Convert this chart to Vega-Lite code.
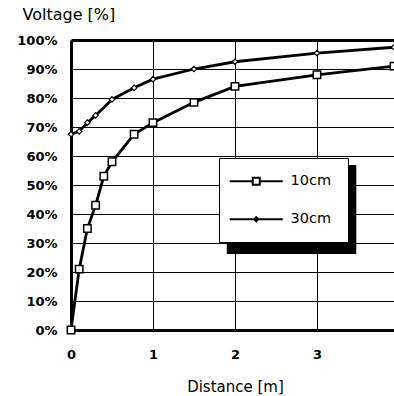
{
  "$schema": "https://vega.github.io/schema/vega-lite/v6.json",
  "autosize": {"type": "none"},
  "padding": {"left": 71, "top": 40, "right": 0, "bottom": 66},
  "width": 323,
  "height": 290,
  "background": "white",
  "config": {
    "view": {"stroke": null},
    "font": "DejaVu Sans",
    "axis": {"labelFont": "DejaVu Sans", "labelColor": "black", "titleColor": "black", "titleFont": "DejaVu Sans", "titleFontWeight": "normal"}
  },
  "datasets": {
    "curves": [
      {"d": 0, "v": 0, "series": "10cm"},
      {"d": 0.1, "v": 21, "series": "10cm"},
      {"d": 0.2, "v": 35, "series": "10cm"},
      {"d": 0.3, "v": 43, "series": "10cm"},
      {"d": 0.4, "v": 53, "series": "10cm"},
      {"d": 0.5, "v": 58, "series": "10cm"},
      {"d": 0.77, "v": 67.5, "series": "10cm"},
      {"d": 1.0, "v": 71.5, "series": "10cm"},
      {"d": 1.5, "v": 78.5, "series": "10cm"},
      {"d": 2.0, "v": 84, "series": "10cm"},
      {"d": 3.0, "v": 88, "series": "10cm"},
      {"d": 3.94, "v": 91, "series": "10cm"},
      {"d": 0, "v": 67.5, "series": "30cm"},
      {"d": 0.1, "v": 68.5, "series": "30cm"},
      {"d": 0.2, "v": 71.5, "series": "30cm"},
      {"d": 0.3, "v": 74, "series": "30cm"},
      {"d": 0.5, "v": 79.5, "series": "30cm"},
      {"d": 0.77, "v": 83.5, "series": "30cm"},
      {"d": 1.0, "v": 86.5, "series": "30cm"},
      {"d": 1.5, "v": 90, "series": "30cm"},
      {"d": 2.0, "v": 92.5, "series": "30cm"},
      {"d": 3.0, "v": 95.5, "series": "30cm"},
      {"d": 3.94, "v": 97.5, "series": "30cm"}
    ],
    "shadow": [{"d": 1.9, "d2": 3.48, "v": 56.9, "v2": 26.2}]
  },
  "encoding": {
    "x": {
      "field": "d", "type": "quantitative",
      "scale": {"domain": [0, 3.94], "nice": false, "zero": false},
      "axis": {
        "values": [0, 1, 2, 3],
        "format": "d", "labelFlush": false,
        "grid": true, "gridColor": "black", "gridWidth": 1, "gridOpacity": 1,
        "domain": true, "domainColor": "black", "domainWidth": 3,
        "ticks": false, "labelFontSize": 13, "labelFontWeight": "bold", "labelPadding": 18,
        "title": "Distance [m]", "titleFontSize": 15,
        "titleX": 164, "titleY": 56, "titleBaseline": "middle", "titleAnchor": "middle"
      }
    },
    "y": {
      "field": "v", "type": "quantitative",
      "scale": {"domain": [0, 100], "nice": false},
      "axis": {
        "values": [0, 10, 20, 30, 40, 50, 60, 70, 80, 90, 100],
        "labelExpr": "datum.value + '%'", "labelOverlap": false,
        "grid": true, "gridColor": "black", "gridOpacity": 1,
        "gridWidth": {"condition": {"test": "datum.value === 100", "value": 3}, "value": 1},
        "domain": true, "domainColor": "black", "domainWidth": 3,
        "ticks": false, "labelFontSize": 13, "labelFontWeight": "bold", "labelPadding": 14,
        "title": "Voltage [%]", "titleFontSize": 16, "titleAngle": 0,
        "titleX": -49, "titleY": -21, "titleAlign": "left", "titleBaseline": "alphabetic"
      }
    }
  },
  "layer": [
    {
      "data": {"name": "shadow"},
      "mark": {"type": "rect", "color": "black"},
      "encoding": {
        "x2": {"field": "d2"},
        "y2": {"field": "v2"}
      }
    },
    {
      "data": {"name": "curves"},
      "mark": {"type": "line", "color": "black", "strokeWidth": 2.8},
      "encoding": {
        "detail": {"field": "series"}
      }
    },
    {
      "data": {"name": "curves"},
      "transform": [{"filter": "datum.series === '10cm'"}],
      "mark": {"type": "point", "shape": "square", "filled": true, "fill": "white", "stroke": "black", "strokeWidth": 1.5, "opacity": 1, "size": 55}
    },
    {
      "data": {"name": "curves"},
      "transform": [{"filter": "datum.series === '30cm'"}],
      "mark": {"type": "point", "shape": "diamond", "filled": true, "fill": "white", "stroke": "black", "strokeWidth": 1.2, "opacity": 1, "size": 30}
    },
    {
      "data": {"name": "curves"},
      "transform": [{"filter": "datum.d < 0"}],
      "mark": {"type": "point", "filled": false, "color": "black", "strokeWidth": 2, "opacity": 1, "size": 100},
      "encoding": {
        "shape": {
          "field": "series", "type": "nominal",
          "scale": {"domain": ["10cm", "30cm"], "range": ["M-5.3,0H-0.7M0.7,0H5.3M-0.7,-0.7H0.7V0.7H-0.7Z", "M-5.3,0H5.3M0,-0.4L0.4,0L0,0.4L-0.4,0Z"]},
          "legend": {
            "title": null,
            "orient": "none", "legendX": 148, "legendY": 118,
            "padding": 16, "strokeColor": "black", "fillColor": "white",
            "symbolOffset": 14, "labelOffset": 27,
            "rowPadding": 22, "labelFontSize": 14.5, "labelFont": "DejaVu Sans", "labelColor": "black",
            "symbolStrokeColor": "black", "symbolStrokeWidth": 2,
            "encode": {
              "legend": {"update": {"strokeWidth": {"value": 1.5}}}
            }
          }
        }
      }
    }
  ]
}
